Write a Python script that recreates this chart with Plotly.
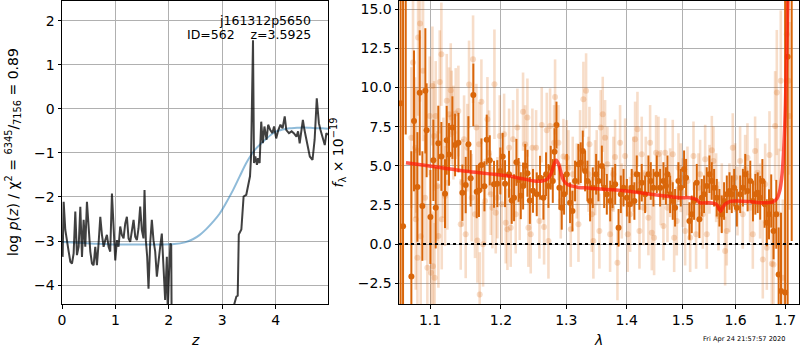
import plotly.graph_objects as go

# ---------------- Left panel: redshift probability ----------------
pz_z = [0.012, 0.031, 0.062, 0.093, 0.125, 0.156, 0.187, 0.218, 0.249, 0.280,
        0.312, 0.343, 0.374, 0.405, 0.436, 0.467, 0.498, 0.530, 0.561, 0.592,
        0.623, 0.654, 0.685, 0.717, 0.748, 0.779, 0.810, 0.841, 0.872, 0.903,
        0.935, 0.966, 0.997, 1.028, 1.059, 1.090, 1.121, 1.153, 1.184, 1.215,
        1.246, 1.277, 1.308, 1.340, 1.371, 1.402, 1.433, 1.464, 1.495, 1.526,
        1.545, 1.570, 1.595, 1.620, 1.651, 1.682, 1.713, 1.745, 1.776, 1.807,
        1.838, 1.869, 1.900, 1.931, 1.963, 1.980, 2.005, 2.030, 2.045, 2.058,
        2.300, 2.700, 3.100, 3.200, 3.230, 3.265, 3.290, 3.310, 3.358, 3.400,
        3.450, 3.500, 3.520, 3.540, 3.564, 3.576, 3.595, 3.620, 3.650, 3.670,
        3.700, 3.730, 3.760, 3.790, 3.830, 3.860, 3.900, 3.940, 3.970, 4.010,
        4.050, 4.090, 4.130, 4.170, 4.200, 4.250, 4.300, 4.340, 4.390, 4.420,
        4.450, 4.480, 4.510, 4.540, 4.590, 4.640, 4.690, 4.730, 4.770, 4.810,
        4.840, 4.890, 4.920, 4.950, 4.980]
pz_logp = [-3.36, -2.11, -2.75, -3.05, -3.24, -3.47, -3.51, -3.28, -2.33, -3.32,
           -3.13, -2.22, -3.36, -2.52, -3.13, -2.11, -2.75, -3.24, -3.51, -3.55,
           -3.13, -3.55, -3.05, -2.45, -2.86, -3.13, -2.98, -2.86, -3.13, -3.24,
           -1.92, -2.75, -3.44, -2.98, -3.13, -2.67, -2.86, -2.94, -2.60, -2.45,
           -2.94, -3.02, -2.75, -2.52, -2.90, -2.98, -2.71, -2.22, -2.75, -2.94,
           -1.84, -2.98, -3.36, -4.08, -3.05, -2.52, -2.98, -3.24, -3.81, -3.39,
           -3.13, -2.83, -3.66, -4.34, -3.36, -4.60, -3.70, -3.05, -3.10, -6.00,
           -7.00, -8.00, -6.50, -4.60, -4.41, -4.26, -4.24, -2.85, -2.74, -1.99,
           -1.95, -1.69, -1.53, -1.08, 1.53, 1.56, -1.23, -1.08, -1.27, -1.12,
           -1.23, -0.29, -0.78, -0.40, -0.70, -0.36, -0.48, -0.55, -0.40, -0.67,
           -0.48, -0.36, -0.44, -0.17, -0.48, -0.55, -0.51, -0.55, -0.63, -0.51,
           -0.78, -0.55, -0.25, -0.48, -0.82, -1.08, -1.16, -0.70, 0.24, -0.33,
           -0.48, -0.70, -0.82, -0.55, -0.59]

prior_z = [0.0, 0.3, 0.6, 1.0, 1.4, 1.8, 2.1, 2.3, 2.45, 2.58, 2.7, 2.83, 2.95,
           3.05, 3.2, 3.32, 3.45, 3.55, 3.64, 3.75, 3.83, 3.92, 4.01, 4.13,
           4.26, 4.4, 4.51, 4.65, 4.76, 4.88, 4.98]
prior_logp = [-3.02, -3.04, -3.06, -3.08, -3.08, -3.08, -3.07, -3.03, -2.96,
              -2.86, -2.73, -2.56, -2.38, -2.18, -1.85, -1.55, -1.23, -1.03,
              -0.89, -0.76, -0.67, -0.58, -0.51, -0.47, -0.44, -0.43, -0.42,
              -0.43, -0.44, -0.44, -0.45]

# ---------------- Right panel: spectrum ----------------
dark_lam = [1.0610, 1.0642, 1.0677, 1.0751, 1.0786, 1.0831, 1.0862, 1.0897, 1.0937, 1.0954,
            1.1005, 1.1045, 1.1077, 1.1112, 1.1154, 1.1204, 1.1227, 1.1259, 1.1306, 1.1343,
            1.1390, 1.1445, 1.1492, 1.1530, 1.1562, 1.1600, 1.1648, 1.1680, 1.1716, 1.1759,
            1.1792, 1.1836, 1.1898, 1.1946, 1.1990, 1.2025, 1.2060, 1.2119, 1.2159, 1.2194,
            1.2229, 1.2262, 1.2295, 1.2330, 1.2362, 1.2396, 1.2432, 1.2480, 1.2538, 1.2589,
            1.2641, 1.2682, 1.2719, 1.2755, 1.2787, 1.2815, 1.2845, 1.2891, 1.2928, 1.2965,
            1.3008, 1.3061, 1.3099, 1.3141, 1.3195, 1.3233, 1.3266, 1.3304, 1.3342, 1.3386,
            1.3430, 1.3485, 1.3524, 1.3580, 1.3619, 1.3663, 1.3720, 1.3759, 1.3804, 1.3861,
            1.3900, 1.3946, 1.4003, 1.4049, 1.4087, 1.4133, 1.4174, 1.4220, 1.4261, 1.4320,
            1.4378, 1.4420, 1.4467, 1.4526, 1.4586, 1.4645, 1.4690, 1.4718, 1.4766, 1.4814,
            1.4856, 1.4917, 1.4960, 1.5021, 1.5058, 1.5120, 1.5163, 1.5206, 1.5256, 1.5306,
            1.5350, 1.5394, 1.5444, 1.5495, 1.5539, 1.5584, 1.5635, 1.5686, 1.5731, 1.5776,
            1.5829, 1.5881, 1.5926, 1.5972, 1.6025, 1.6091, 1.6144, 1.6191, 1.6238, 1.6291,
            1.6345, 1.6393, 1.6440, 1.6490, 1.6535, 1.6580, 1.6625, 1.6670, 1.6715, 1.6763,
            1.6819, 1.6868, 1.6917, 1.7002, 1.7055, 1.7140]
dark_flux = [9.00, 1.13, 25.0, -2.07, 7.87, 3.65, 9.66, 2.43, 9.79, 7.27,
             1.73, 5.35, 2.32, 6.44, 5.60, 3.22, 6.63, 5.73, 7.44, 6.33,
             6.48, 3.28, 3.77, 6.37, 4.20, 9.53, 3.35, 3.43, 5.05, 3.69,
             6.67, 5.35, 3.82, 3.86, 4.67, 5.60, 3.86, 4.46, 2.79, 2.96,
             5.22, 4.10, 3.09, 3.71, 5.00, 4.52, 2.79, 3.40, 3.18, 4.24,
             2.96, 4.46, 3.71, 4.88, 4.03, 5.90, 7.60, 3.60, 2.32, 3.18,
             4.46, 2.64, 2.11, 4.03, 5.10, 5.20, 5.95, 4.67, 4.03, 2.75,
             3.60, 4.46, 4.03, 4.99, 3.60, 3.18, 2.75, 3.60, 3.82, 1.04,
             3.18, 3.60, 2.96, 2.54, 3.60, 2.75, 4.46, 3.39, 3.92, 3.18,
             4.46, 4.03, 3.60, 4.46, 3.60, 4.03, 3.71, 4.46, 3.18, 2.75,
             2.32, 4.03, 3.60, 4.78, 4.24, 1.47, 1.90, 2.75, 3.92, 1.58,
             2.96, 3.18, 3.71, 4.46, 4.03, 3.60, 2.96, 2.32, 1.90, 2.75,
             3.18, 3.39, 3.18, 3.60, 2.32, 3.18, 3.60, 4.46, 3.39, 4.03,
             2.75, 3.18, 3.28, 2.96, 4.03, 2.54, 1.36, 1.90, 2.75, 0.83,
             1.90, -1.94, -3.00, -3.10, 11.97, 20.0]
dark_err = [30, 28, 18, 8, 4.5, 3.5, 4.0, 3.5, 4.0, 3.0,
            3.0, 2.6, 2.6, 2.4, 2.2, 2.2, 2.2, 2.0, 2.0, 2.0,
            1.9, 1.8, 1.8, 1.8, 1.8, 2.0, 1.7, 1.7, 1.7, 1.6,
            1.6, 1.6, 1.5, 1.5, 1.5, 1.5, 1.5, 1.5, 1.5, 1.5,
            1.5, 1.4, 1.5, 1.5, 1.4, 1.5, 1.5, 1.4, 1.4, 1.4,
            1.4, 1.4, 1.4, 1.4, 1.4, 1.5, 1.5, 1.4, 1.4, 1.3,
            1.3, 1.3, 1.3, 1.3, 1.3, 1.3, 1.3, 1.3, 1.3, 1.3,
            1.3, 1.3, 1.3, 1.3, 1.3, 1.3, 1.3, 1.3, 1.3, 1.2,
            1.2, 1.2, 1.2, 1.2, 1.2, 1.2, 1.2, 1.2, 1.2, 1.2,
            1.2, 1.2, 1.2, 1.2, 1.2, 1.2, 1.2, 1.2, 1.2, 1.2,
            1.2, 1.2, 1.2, 1.2, 1.2, 1.2, 1.2, 1.2, 1.2, 1.2,
            1.2, 1.2, 1.2, 1.2, 1.2, 1.2, 1.2, 1.2, 1.2, 1.2,
            1.2, 1.2, 1.2, 1.2, 1.2, 1.2, 1.2, 1.3, 1.3, 1.3,
            1.3, 1.3, 1.3, 1.4, 1.4, 1.5, 1.5, 1.6, 1.7, 1.8,
            2.2, 3.0, 5.0, 25, 25, 19.8]

light_lam = [1.0751, 1.0773, 1.0800, 1.0809, 1.0817, 1.0831, 1.0840, 1.0866, 1.0875, 1.0906,
             1.0933, 1.0964, 1.0996, 1.1014, 1.1032, 1.1040, 1.1054, 1.1062, 1.1077, 1.1100,
             1.1113, 1.1132, 1.1154, 1.1159, 1.1182, 1.1205, 1.1228, 1.1237, 1.1260, 1.1283,
             1.1296, 1.1320, 1.1352, 1.1389, 1.1422, 1.1445, 1.1469, 1.1492, 1.1515, 1.1539,
             1.1577, 1.1596, 1.1624, 1.1643, 1.1658, 1.1682, 1.1691, 1.1715, 1.1739, 1.1768,
             1.1802, 1.1826, 1.1850, 1.1874, 1.1904, 1.1923, 1.1947, 1.1982, 1.2011, 1.2046,
             1.2070, 1.2095, 1.2120, 1.2144, 1.2179, 1.2219, 1.2244, 1.2279, 1.2329, 1.2360,
             1.2395, 1.2410, 1.2446, 1.2471, 1.2528, 1.2579, 1.2615, 1.2651, 1.2693, 1.2719,
             1.2745, 1.2807, 1.2823, 1.2876, 1.2913, 1.2955, 1.3008, 1.3035, 1.3072, 1.3104,
             1.3169, 1.3196, 1.3222, 1.3276, 1.3320, 1.3358, 1.3375, 1.3413, 1.3440, 1.3468,
             1.3495, 1.3539, 1.3561, 1.3595, 1.3634, 1.3673, 1.3718, 1.3746, 1.3774, 1.3802,
             1.3842, 1.3887, 1.3916, 1.3973, 1.4018, 1.4059, 1.4116, 1.4145, 1.4186, 1.4221,
             1.4261, 1.4290, 1.4332, 1.4378, 1.4408, 1.4437, 1.4479, 1.4514, 1.4556, 1.4597,
             1.4645, 1.4676, 1.4718, 1.4766, 1.4814, 1.4839, 1.4887, 1.4918, 1.4960, 1.4997,
             1.5040, 1.5083, 1.5133, 1.5195, 1.5244, 1.5288, 1.5319, 1.5370, 1.5414, 1.5445,
             1.5496, 1.5541, 1.5572, 1.5623, 1.5668, 1.5732, 1.5796, 1.5828, 1.5880, 1.5945,
             1.5991, 1.6037, 1.6089, 1.6142, 1.6189, 1.6235, 1.6288, 1.6342, 1.6388, 1.6435,
             1.6489, 1.6543, 1.6591, 1.6625, 1.6679, 1.6727, 1.6761, 1.6795, 1.6830, 1.6871,
             1.6912, 1.6954, 1.7037, 1.7072, 1.7093]
light_flux = [6.80, 11.60, 6.16, 1.58, 6.00, -0.87, 13.20, 14.10, 0.50, 11.07,
              2.96, -1.51, 8.19, -1.83, 10.10, -1.41, 6.91, -2.15, 8.19, 3.71,
              0.51, 10.36, 12.13, 1.58, 4.88, 3.07, 9.15, 3.92, 8.29, 9.83,
              8.08, 7.12, 8.34, 8.50, 1.26, 3.92, 6.70, 0.62, 6.16, 10.20,
              2.96, 11.81, 1.90, 7.44, 0.23, 6.37, -3.22, 9.10, -0.02, 2.75,
              7.97, 5.84, 3.18, 2.32, 10.21, 2.00, 2.96, 6.91, 2.54, 7.01,
              1.36, 0.94, 6.16, 1.04, 6.70, 1.90, 7.44, 2.75, 8.46, 6.37,
              8.08, 1.04, 0.62, 6.16, 6.16, 1.47, 7.61, 1.09, 7.27, 0.19,
              7.55, 6.48, 9.40, 6.48, 2.75, 5.60, 5.52, 4.88, 0.94, 4.46,
              4.03, 1.26, 6.16, 9.25, 9.79, 4.46, 6.37, 1.90, 0.19, 4.24,
              4.88, 0.83, 7.44, 8.29, 6.80, 5.10, 0.62, 2.32, 4.46, 5.56,
              -1.19, 6.48, 2.75, 5.63, 0.62, 1.90, 4.46, 6.70, 7.33, 0.83,
              5.74, 2.32, 4.46, 1.68, 6.48, 0.72, 0.41, 5.84, 5.74, 3.60,
              1.15, 5.84, 2.32, 3.92, 5.74, 0.41, 1.47, 4.88, 4.24, 3.28,
              0.83, 4.03, 0.41, 5.63, 0.62, 3.60, 4.46, 1.90, 5.42, 0.62,
              4.14, 5.99, 5.31, 3.60, 1.79, 2.96, -0.45, 0.83, 2.96, 6.16,
              4.24, 2.75, 5.31, 1.90, 4.78, 5.52, 2.32, 0.62, 5.95, 4.56,
              2.75, -0.98, 3.82, -0.23, 5.69, -1.26, -1.30, 7.55, 9.68, 1.90,
              10.43, -2.15, 13.40, 10.43, 8.19]
light_err = [4.5, 5.0, 4.5, 4.5, 4.0, 4.5, 5.0, 5.0, 4.5, 4.5,
             4.0, 4.0, 3.8, 3.8, 3.8, 3.5, 3.5, 3.5, 3.5, 3.5,
             3.3, 3.3, 3.3, 3.2, 3.2, 3.2, 3.0, 3.0, 3.0, 3.0,
             3.0, 3.0, 2.9, 2.9, 2.9, 2.8, 2.8, 2.8, 2.8, 2.8,
             2.8, 2.8, 2.8, 2.8, 2.7, 2.7, 2.7, 2.7, 2.7, 2.7,
             2.7, 2.7, 2.6, 2.6, 3.5, 2.6, 2.6, 2.6, 2.6, 2.6,
             2.6, 2.6, 2.5, 2.5, 2.5, 2.5, 2.5, 2.5, 2.5, 2.5,
             2.5, 2.5, 2.5, 2.5, 2.4, 2.4, 2.4, 2.4, 2.4, 2.4,
             2.4, 2.4, 2.4, 2.4, 2.4, 2.4, 2.4, 2.4, 2.4, 2.4,
             2.4, 2.4, 2.4, 2.4, 2.4, 2.4, 2.4, 2.4, 2.4, 2.4,
             2.4, 2.4, 2.4, 2.4, 2.4, 2.4, 2.4, 2.4, 2.4, 2.4,
             2.4, 2.4, 2.4, 2.4, 2.4, 2.4, 2.4, 2.4, 2.4, 2.4,
             2.4, 2.4, 2.4, 2.4, 2.4, 2.4, 2.4, 2.4, 2.4, 2.4,
             2.2, 2.2, 2.2, 2.2, 2.2, 2.2, 2.2, 2.2, 2.2, 2.2,
             2.2, 2.2, 2.2, 2.2, 2.2, 2.2, 2.2, 2.2, 2.2, 2.2,
             2.2, 2.2, 2.2, 2.2, 2.2, 2.2, 2.2, 2.2, 2.2, 2.2,
             2.2, 2.2, 2.2, 2.2, 2.2, 2.2, 2.2, 2.2, 2.2, 2.2,
             2.4, 2.5, 2.6, 2.7, 2.8, 3.0, 3.2, 3.5, 4.0, 4.2,
             4.5, 5.0, 6.0, 6.0, 6.0]

model_lam = [1.068, 1.09, 1.12, 1.15, 1.18, 1.21, 1.235, 1.25, 1.262, 1.270,
             1.276, 1.280, 1.284, 1.288, 1.292, 1.296, 1.302, 1.310, 1.320, 1.335,
             1.360, 1.400, 1.435, 1.467, 1.494, 1.512, 1.525, 1.532, 1.545, 1.558,
             1.564, 1.568, 1.571, 1.575, 1.580, 1.587, 1.600, 1.625, 1.650, 1.675,
             1.683, 1.689, 1.694, 1.698, 1.701, 1.704, 1.707, 1.709]
model_flux = [5.20, 5.05, 4.85, 4.65, 4.50, 4.35, 4.15, 4.03, 4.03, 4.15,
              4.50, 5.00, 5.35, 5.10, 4.50, 4.05, 3.80, 3.70, 3.62, 3.58,
              3.50, 3.39, 3.22, 3.07, 2.96, 2.96, 2.85, 2.64, 2.64, 2.60,
              2.50, 2.25, 2.10, 2.35, 2.55, 2.70, 2.75, 2.72, 2.64, 2.70,
              2.90, 3.40, 4.50, 6.50, 9.00, 13.0, 17.0, 20.0]

x_ticks_right = [1.1, 1.2, 1.3, 1.4, 1.5, 1.6, 1.7]
x_ticklabels_right = ["1.1", "1.2", "1.3", "1.4", "1.5", "1.6", "1.7"]

title_line1 = "j161312p5650"
title_line2 = "ID=562\u00a0\u00a0\u00a0\u00a0z=3.5925"
timestamp = "Fri Apr 24 21:57:57 2020"

# ---------------- Figure ----------------
FONT = "DejaVu Sans"
ORANGE = "rgb(217,102,10)"
ORANGE_LIGHT = "rgba(217,102,10,0.22)"

fig = go.Figure()

fig.add_trace(go.Scatter(x=prior_z, y=prior_logp, mode="lines", line_shape="spline",
                         line=dict(color="rgba(31,119,180,0.5)", width=2),
                         xaxis="x", yaxis="y", hoverinfo="skip"))
fig.add_trace(go.Scatter(x=pz_z, y=pz_logp, mode="lines",
                         line=dict(color="rgba(0,0,0,0.75)", width=2),
                         xaxis="x", yaxis="y", hoverinfo="skip"))

fig.add_trace(go.Scatter(x=light_lam, y=light_flux, mode="markers",
                         marker=dict(color=ORANGE_LIGHT, size=6, line=dict(width=0)),
                         error_y=dict(type="data", array=light_err, visible=True,
                                      thickness=2.6, width=0, color=ORANGE_LIGHT),
                         xaxis="x2", yaxis="y2", hoverinfo="skip"))
fig.add_trace(go.Scatter(x=dark_lam, y=dark_flux, mode="markers",
                         marker=dict(color=ORANGE, size=6, line=dict(width=0)),
                         error_y=dict(type="data", array=dark_err, visible=True,
                                      thickness=2, width=0, color=ORANGE),
                         xaxis="x2", yaxis="y2", hoverinfo="skip"))
fig.add_trace(go.Scatter(x=model_lam, y=model_flux, mode="lines", line_shape="spline",
                         line=dict(color="rgba(255,25,10,0.72)", width=3.5),
                         xaxis="x2", yaxis="y2", hoverinfo="skip"))

axis_common = dict(showgrid=True, gridcolor="#b0b0b0", gridwidth=1, zeroline=False,
                   showline=True, linecolor="black", linewidth=1, mirror=True,
                   ticks="outside", ticklen=3.5, tickwidth=1, tickcolor="black",
                   automargin=False,
                   tickfont=dict(family=FONT, size=14, color="black"))

fig.update_layout(
    width=800, height=350,
    margin=dict(l=62, r=1, t=1, b=46, autoexpand=False),
    paper_bgcolor="white", plot_bgcolor="white",
    showlegend=False,
    font=dict(family=FONT, size=14, color="black"),
    xaxis=dict(domain=[0, 0.3609], range=[0, 4.98], tickvals=[0, 1, 2, 3, 4],
               anchor="y", **axis_common),
    yaxis=dict(domain=[0, 1], range=[-4.43, 2.45], tickvals=[-4, -3, -2, -1, 0, 1, 2],
               anchor="x", **axis_common),
    xaxis2=dict(domain=[0.4573, 1], type="log", range=[0.02488, 0.2379],
                tickvals=x_ticks_right, ticktext=x_ticklabels_right,
                anchor="y2", **axis_common),
    yaxis2=dict(domain=[0, 1], range=[-3.83, 15.53],
                tickvals=[-2.5, 0, 2.5, 5, 7.5, 10, 12.5, 15], tickformat=".1f",
                anchor="x2", **axis_common),
    shapes=[dict(type="line", xref="x2 domain", yref="y2", x0=0, x1=1, y0=0, y1=0,
                 line=dict(color="black", width=2, dash="dot"), layer="above")],
)

ann = []
ann.append(dict(text=title_line1, xref="paper", yref="paper", x=0.3406, y=0.9356,
                xanchor="right", yanchor="middle", showarrow=False,
                font=dict(family=FONT, size=12.5, color="black")))
ann.append(dict(text=title_line2, xref="paper", yref="paper", x=0.3406, y=0.8878,
                xanchor="right", yanchor="middle", showarrow=False,
                font=dict(family=FONT, size=12.5, color="black")))
ann.append(dict(text="<i>z</i>", xref="paper", yref="paper", x=0.1805, y=-0.118,
                xanchor="center", yanchor="middle", showarrow=False,
                font=dict(family=FONT, size=14, color="black")))
ann.append(dict(text="<i>λ</i>", xref="paper", yref="paper", x=0.7286, y=-0.118,
                xanchor="center", yanchor="middle", showarrow=False,
                font=dict(family=FONT, size=14, color="black")))
ann.append(dict(text="log <i>p</i>(<i>z</i>) / χ<sup>2</sup> = <sup>6345</sup>/<sub>7156</sub> = 0.89",
                xref="paper", yref="paper", x=-0.067, y=0.5, textangle=-90,
                xanchor="center", yanchor="middle", showarrow=False,
                font=dict(family=FONT, size=14, color="black")))
ann.append(dict(text="<i>f</i><sub>λ</sub> × 10<sup>−19</sup>",
                xref="paper", yref="paper", x=0.3745, y=0.5, textangle=-90,
                xanchor="center", yanchor="middle", showarrow=False,
                font=dict(family=FONT, size=14, color="black")))
ann.append(dict(text=timestamp, xref="paper", yref="paper", x=0.9837, y=-0.1155,
                xanchor="right", yanchor="middle", showarrow=False,
                font=dict(family=FONT, size=6.6, color="black")))
fig.update_layout(annotations=ann)

fig.write_html("out.html",
               config={"displayModeBar": False},
               post_script="document.body.style.margin='0px';document.body.style.padding='0px';")
